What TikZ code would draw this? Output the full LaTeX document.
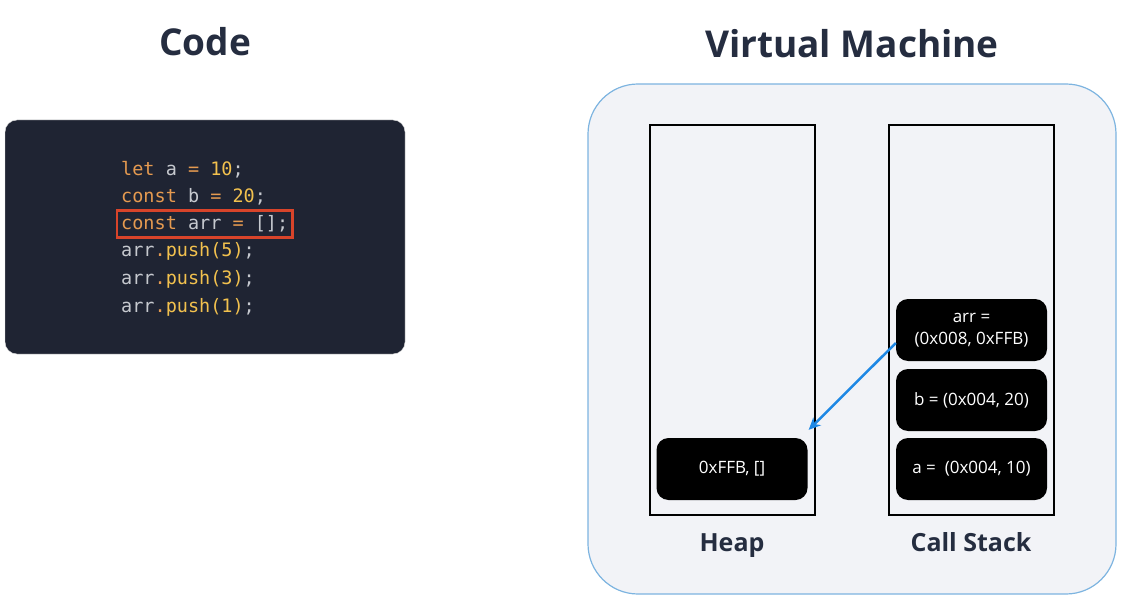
\documentclass[tikz,border=0pt]{standalone}
\usepackage{fontspec}
\setmainfont{Open Sans}
\setmonofont{DejaVu Sans Mono}
\usepackage{xcolor}
\usetikzlibrary{
    arrows.meta,
    fit,
    positioning
}
\definecolor{titlecol}{HTML}{252D40}
\definecolor{codebg}{HTML}{1F2433}
\definecolor{kwcol}{HTML}{E59A50}
\definecolor{numcol}{HTML}{F2C14E}
\definecolor{idcol}{HTML}{C6C9CF}
\definecolor{hlred}{HTML}{D8442A}
\definecolor{vmbg}{HTML}{F2F3F7}
\definecolor{vmline}{HTML}{7DB4E0}
\definecolor{ptrblue}{HTML}{1E88E5}
\newcommand{\kw}[1]{\textcolor{kwcol}{#1}}
\newcommand{\nm}[1]{\textcolor{numcol}{#1}}
\newcommand{\id}[1]{\textcolor{idcol}{#1}}
\tikzset{
    title/.style={anchor=base, font=\fontsize{37}{44}\selectfont\bfseries, text=titlecol},
    label/.style={anchor=base, font=\fontsize{25}{30}\selectfont\bfseries, text=titlecol},
    codeline/.style={anchor=west, inner sep=0pt, font=\fontsize{18.5}{22}\selectfont\ttfamily},
    column/.style={draw=black, line width=2.5pt, minimum width=165pt, minimum height=390pt},
    item/.style={fill=black, text=white, rounded corners=12pt, minimum width=151pt, minimum height=62pt, align=center, font=\fontsize{17}{22}\selectfont}
}
\begin{document}
\begin{tikzpicture}[x=1pt, y=-1pt]
                        \useasboundingbox (0,0) rectangle (1148,612);
                        \node[title] (tcode) at (205, 56) {Code};
                        \node[title] (tvm) at (852, 58) {Virtual Machine};

                        % code panel
                        \node[fill=codebg, draw=gray!25, rounded corners=12pt, minimum width=400pt, minimum height=234pt] (panel) at (205, 237) {};
                        \node[codeline] (l1) at (121, 170) {\kw{let} \id{a} \kw{=} \nm{10}\id{;}};
                        \node[codeline] (l2) at (121, 197) {\kw{const} \id{b} \kw{=} \nm{20}\id{;}};
                        \node[codeline] (l3) at (121, 224) {\kw{const} \id{arr} \kw{=} \id{[];}};
                        \node[codeline] (l4) at (121, 251) {\id{arr}\kw{.}\nm{push(5)}\id{;}};
                        \node[codeline] (l5) at (121, 279) {\id{arr}\kw{.}\nm{push(3)}\id{;}};
                        \node[codeline] (l6) at (121, 307) {\id{arr}\kw{.}\nm{push(1)}\id{;}};
                        \node[draw=hlred, line width=2.5pt, inner xsep=4pt, inner ysep=5pt, fit=(l3)] (hl) {};

                        % virtual machine
                        \node[draw=vmline, line width=1.2pt, fill=vmbg, rounded corners=50pt, minimum width=528pt, minimum height=510pt] (vm) at (852, 339) {};
                        \node[column] (heap) at (732.5, 320) {};
                        \node[column] (stack) at (971.5, 320) {};
                        \node[item] (heapitem) at (732, 469) {0xFFB, []};
                        \node[item] (arr) at (971.5, 330) {arr =\\(0x008, 0xFFB)};
                        \node[item] (b) at (971.5, 400) {b = (0x004, 20)};
                        \node[item] (a) at (971.5, 469) {a =\ \ (0x004, 10)};
                        \node[label] (lheap) at (732, 551) {Heap};
                        \node[label] (lstack) at (971, 551) {Call Stack};

                        \draw[ptrblue, line width=2.5pt, -{Stealth[length=12pt, width=11pt]}]
                        ([yshift=-13pt]arr.west) -- ([xshift=1pt, yshift=8pt]heapitem.north east);
                    \end{tikzpicture}
\end{document}
